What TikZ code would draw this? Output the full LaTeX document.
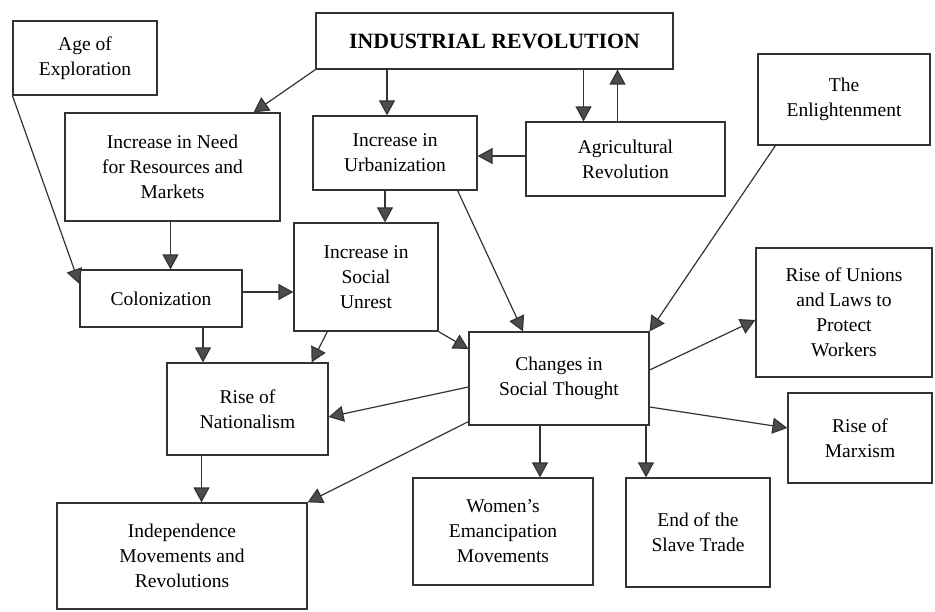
\documentclass[tikz,border=0pt]{standalone}
\usepackage{fontspec}
\setmainfont{Liberation Serif}
\usetikzlibrary{arrows.meta}
\tikzstyle{box}=[draw=black!80,line width=1.2pt,inner sep=0pt,align=center,font=\fontsize{19.5}{25}\selectfont]
\tikzstyle{title}=[box,font=\fontsize{21.8}{24}\selectfont\bfseries]
\tikzstyle{edge}=[draw=black!80,line width=1.2pt,-{Triangle[length=15pt,width=16pt,fill=black!70]}]

\begin{document}
\begin{tikzpicture}[x=1pt,y=-1pt]
    \useasboundingbox (0,0) rectangle (935,612);
    % First the boxes
    \node[title,minimum width=357pt,minimum height=56pt] (ir) at (494.5,41) {INDUSTRIAL REVOLUTION};
    \foreach \pos/\name/\bw/\bh/\label in {{(85,58)/age/144/74/Age of\\Exploration},
    {(172.5,167)/need/215/108/Increase in Need\\for Resources and\\Markets},
    {(395,153)/urb/164/74/Increase in\\Urbanization},
    {(625.5,159)/agr/199/74/Agricultural\\Revolution},
    {(844,99.5)/enl/172/91/The\\Enlightenment},
    {(161,298.5)/col/162/57/Colonization},
    {(366,277)/unr/144/108/Increase in\\Social\\Unrest},
    {(247.5,409)/nat/161/92/Rise of\\Nationalism},
    {(559,378.5)/chg/180/93/Changes in\\Social Thought},
    {(844,312.5)/uni/176/129/Rise of Unions\\and Laws to\\Protect\\Workers},
    {(860,438)/mrx/144/90/Rise of\\Marxism},
    {(182,556)/ind/250/106/Independence\\Movements and\\Revolutions},
    {(503,531.5)/wom/180/107/Women's\\Emancipation\\Movements},
    {(698,532.5)/slv/144/109/End of the\\Slave Trade}}
        \node[box,minimum width=\bw pt,minimum height=\bh pt] (\name) at \pos {\label};

    % Then the arrows between them
    \path[edge] (ir.south west) -- ([xshift=-27pt]need.north east);
    \path[edge] ([xshift=-8pt]urb.north |- ir.south) -- ([xshift=-8pt]urb.north);
    \path[edge] ([xshift=-42pt]agr.north |- ir.south) -- ([xshift=-42pt]agr.north);
    \path[edge] ([xshift=-8pt]agr.north) -- ([xshift=-8pt]agr.north |- ir.south);
    \path[edge] ([yshift=3pt]agr.west) -- ([yshift=3pt]agr.west -| urb.east);
    \path[edge] (age.south west) -- ([yshift=14.5pt]col.west);
    \path[edge] ([xshift=-2pt]need.south) -- ([xshift=-2pt]need.south |- col.north);
    \path[edge] ([yshift=6.5pt]col.east) -- ([yshift=6.5pt]col.east -| unr.west);
    \path[edge] ([xshift=-10pt]urb.south) -- ([xshift=-10pt]urb.south |- unr.north);
    \path[edge] ([xshift=-20pt]urb.south east) -- ([xshift=-36pt]chg.north);
    \path[edge] ([xshift=18pt]enl.south west) -- (chg.north east);
    \path[edge] (unr.south east) -- ([yshift=29.5pt]chg.west);
    \path[edge] ([xshift=42pt]col.south) -- ([xshift=42pt]col.south |- nat.north);
    \path[edge] ([xshift=34pt]unr.south west) -- ([xshift=-17pt]nat.north east);
    \path[edge] ([yshift=-8.5pt]chg.west) -- ([yshift=-8pt]nat.east);
    \path[edge] ([yshift=4pt]chg.south west) -- (ind.north east);
    \path[edge] ([xshift=-46pt]nat.south) -- ([xshift=-46pt]nat.south |- ind.north);
    \path[edge] ([yshift=8.5pt]chg.east) -- ([yshift=-7.5pt]uni.west);
    \path[edge] ([yshift=-28.5pt]chg.east) -- ([yshift=10pt]mrx.west);
    \path[edge] ([xshift=-19pt]chg.south) -- ([xshift=-19pt]chg.south |- wom.north);
    \path[edge] ([xshift=87pt]chg.south) -- ([xshift=87pt]chg.south |- slv.north);
\end{tikzpicture}
\end{document}
